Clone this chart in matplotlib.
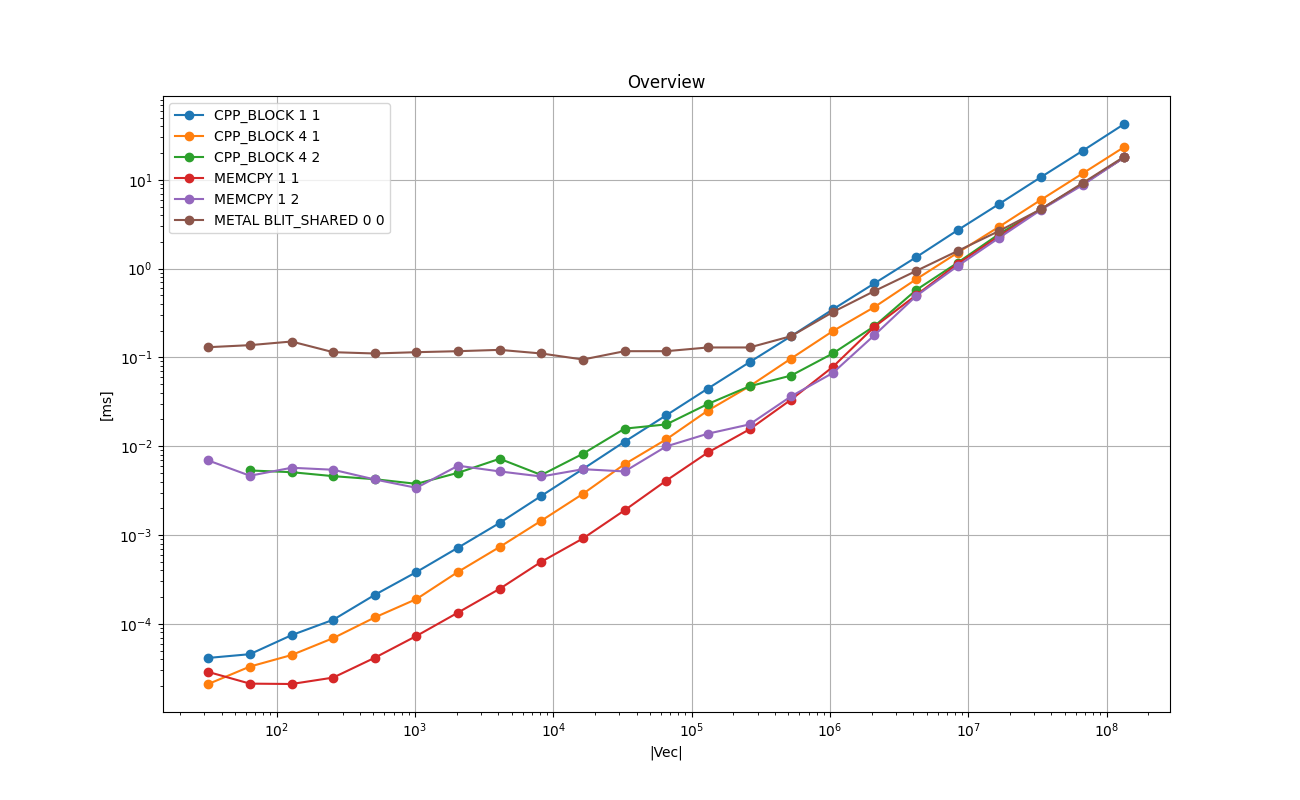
import numpy as np
import matplotlib
matplotlib.use("Agg")
import matplotlib.pyplot as plt

# vector sizes: 2^5 .. 2^27
sizes = [2 ** k for k in range(5, 28)]

cpp_block_1_1 = [4.13e-5, 4.55e-5, 7.45e-5, 1.11e-4, 2.12e-4, 3.83e-4, 7.21e-4, 1.37e-3,
                 2.76e-3, 5.54e-3, 0.01125, 0.0223, 0.0446, 0.0883, 0.1735, 0.347,
                 0.682, 1.341, 2.71, 5.36, 10.72, 21.2, 42.5]
cpp_block_4_1 = [2.1e-5, 3.3e-5, 4.45e-5, 6.9e-5, 1.18e-4, 1.9e-4, 3.85e-4, 7.34e-4,
                 1.45e-3, 2.91e-3, 6.28e-3, 0.01194, 0.0252, 0.0473, 0.0972, 0.1977,
                 0.369, 0.757, 1.51, 2.97, 5.95, 11.78, 23.4]
# CPP_BLOCK 4 2 starts at 2^6
cpp_block_4_2 = [5.33e-3, 5.1e-3, 4.6e-3, 4.25e-3, 3.77e-3, 5.02e-3, 7.22e-3, 4.74e-3,
                 8.23e-3, 0.01577, 0.0176, 0.0299, 0.0473, 0.0625, 0.1107, 0.225,
                 0.573, 1.166, 2.46, 4.67, 8.94, 17.85]
memcpy_1_1 = [2.87e-5, 2.12e-5, 2.1e-5, 2.48e-5, 4.15e-5, 7.3e-5, 1.34e-4, 2.48e-4,
              5.0e-4, 9.15e-4, 1.9e-3, 4.1e-3, 8.5e-3, 0.01548, 0.0335, 0.0781,
              0.221, 0.5, 1.135, 2.33, 4.67, 8.94, 17.85]
memcpy_1_2 = [6.91e-3, 4.65e-3, 5.72e-3, 5.43e-3, 4.22e-3, 3.4e-3, 6.03e-3, 5.2e-3,
              4.56e-3, 5.51e-3, 5.2e-3, 9.95e-3, 0.01384, 0.0176, 0.0365, 0.0668,
              0.178, 0.49, 1.07, 2.23, 4.59, 8.71, 17.85]
metal_blit_shared = [0.1303, 0.1374, 0.151, 0.1145, 0.1107, 0.1145, 0.1175, 0.1216,
                     0.1107, 0.0947, 0.1175, 0.1175, 0.1294, 0.1294, 0.1735, 0.3237,
                     0.559, 0.94, 1.58, 2.66, 4.67, 9.18, 18.2]

fig, ax = plt.subplots(figsize=(13, 8), dpi=100)

ax.plot(sizes, cpp_block_1_1, marker="o", label="CPP_BLOCK 1 1")
ax.plot(sizes, cpp_block_4_1, marker="o", label="CPP_BLOCK 4 1")
ax.plot(sizes[1:], cpp_block_4_2, marker="o", label="CPP_BLOCK 4 2")
ax.plot(sizes, memcpy_1_1, marker="o", label="MEMCPY 1 1")
ax.plot(sizes, memcpy_1_2, marker="o", label="MEMCPY 1 2")
ax.plot(sizes, metal_blit_shared, marker="o", label="METAL BLIT_SHARED 0 0")

ax.set_xscale("log")
ax.set_yscale("log")
ax.set_title("Overview")
ax.set_xlabel("|Vec|")
ax.set_ylabel("[ms]")
ax.grid(True)
ax.legend(loc="upper left")

fig.savefig("out.png")
